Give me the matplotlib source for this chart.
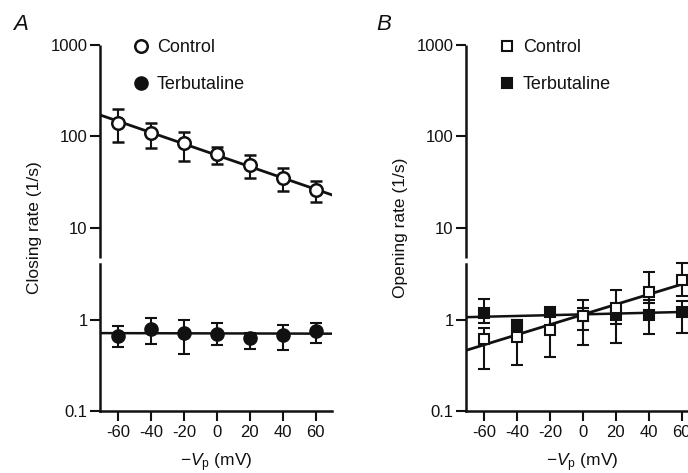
import matplotlib
matplotlib.use("Agg")
import matplotlib.pyplot as plt
from matplotlib.ticker import FixedLocator, FixedFormatter, NullLocator
import numpy as np

plt.rcParams["font.family"] = ["Liberation Sans", "DejaVu Sans"]
plt.rcParams["mathtext.fontset"] = "custom"
plt.rcParams["mathtext.rm"] = "Liberation Sans"
plt.rcParams["mathtext.it"] = "Liberation Sans:italic"

# membrane potential (-Vp, mV)
voltage = [-60, -40, -20, 0, 20, 40, 60]

# A: closing rate (1/s)
close_ctrl = [141, 108, 84, 64, 49, 35, 26]
close_ctrl_lo = [86, 74, 54, 50, 35, 25.6, 19.4]
close_ctrl_hi = [198, 139, 113, 76, 62, 45, 33]
close_terb = [0.66, 0.79, 0.71, 0.70, 0.62, 0.68, 0.75]
close_terb_lo = [0.50, 0.54, 0.42, 0.52, 0.48, 0.47, 0.56]
close_terb_hi = [0.85, 1.03, 1.0, 0.91, 0.71, 0.88, 0.91]

# B: opening rate (1/s)
open_ctrl = [0.61, 0.65, 0.77, 1.10, 1.32, 2.0, 2.72]
open_ctrl_lo = [0.29, 0.32, 0.39, 0.53, 0.56, 1.5, 1.8]
open_ctrl_hi = [0.80, 0.85, 1.1, 1.62, 2.1, 3.3, 4.1]
open_terb = [1.19, 0.87, 1.21, 1.10, 1.11, 1.11, 1.21]
open_terb_lo = [0.91, 0.78, 1.10, 0.77, 0.90, 0.69, 0.72]
open_terb_hi = [1.66, 0.98, 1.32, 1.32, 1.4, 1.62, 1.6]

# fitted lines (end points)
fit_x = [-71, 70]
fit_close_ctrl = [172, 23]
fit_close_terb = [0.71, 0.70]
fit_open_ctrl = [0.46, 2.75]
fit_open_terb = [1.06, 1.22]

yticks = [0.1, 1, 10, 100, 1000]
ytick_labels = ["0.1", "1", "10", "100", "1000"]
xtick_labels = ["-60", "-40", "-20", "0", "20", "40", "60"]

INK = "#111111"
W, H = 688, 473


def err(y, lo, hi):
    y = np.asarray(y)
    return [y - np.asarray(lo), np.asarray(hi) - y]


def style_axes(ax, ylabel):
    ax.set_yscale("log")
    ax.set_xlim(-71, 70)
    ax.set_ylim(0.1, 1000)
    for s in ["top", "right"]:
        ax.spines[s].set_visible(False)
    for s in ["left", "bottom"]:
        ax.spines[s].set_linewidth(1.8)
        ax.spines[s].set_color(INK)
    # broken y axis between 1 and 10
    ax.spines["left"].set_bounds(0.1, 4.0)
    ax.plot([0, 0], [4.7, 1000], transform=ax.get_yaxis_transform(),
            color=INK, lw=1.8, clip_on=False, solid_capstyle="butt", zorder=1)
    ax.yaxis.set_major_locator(FixedLocator(yticks))
    ax.yaxis.set_major_formatter(FixedFormatter(ytick_labels))
    ax.yaxis.set_minor_locator(NullLocator())
    ax.set_xticks(voltage)
    ax.set_xticklabels(xtick_labels)
    ax.tick_params(axis="both", length=7, width=1.5, color=INK,
                   labelsize=12, labelcolor=INK, pad=3)
    ax.tick_params(axis="y", pad=2)
    ax.set_ylabel(ylabel, fontsize=12.5, color=INK, labelpad=6)
    ax.set_xlabel(r"$-V_{\rm p}$ (mV)", fontsize=12.5, color=INK, labelpad=8)


fig = plt.figure(figsize=(W / 100, H / 100), dpi=100)
axA = fig.add_axes([100 / W, 62 / H, 232 / W, 366 / H])
axB = fig.add_axes([466 / W, 62 / H, 232 / W, 366 / H])

style_axes(axA, "Closing rate (1/s)")
style_axes(axB, "Opening rate (1/s)")

bar_kw = dict(ecolor=INK, elinewidth=1.5, capsize=4.5, capthick=1.5,
              linestyle="none", zorder=3)

axA.plot(fit_x, fit_close_ctrl, color=INK, lw=2, zorder=2)
axA.plot(fit_x, fit_close_terb, color=INK, lw=1.8, zorder=2)
axA.errorbar(voltage, close_ctrl, yerr=err(close_ctrl, close_ctrl_lo, close_ctrl_hi),
             marker="o", ms=9, mfc="white", mec=INK, mew=1.8,
             label="Control", **bar_kw)
axA.errorbar(voltage, close_terb, yerr=err(close_terb, close_terb_lo, close_terb_hi),
             marker="o", ms=9, mfc=INK, mec=INK, mew=1.5,
             label="Terbutaline", **bar_kw)

axB.plot(fit_x, fit_open_ctrl, color=INK, lw=2, zorder=2)
axB.plot(fit_x, fit_open_terb, color=INK, lw=1.8, zorder=2)
axB.errorbar(voltage, open_terb, yerr=err(open_terb, open_terb_lo, open_terb_hi),
             marker="s", ms=7.5, mfc=INK, mec=INK, mew=1.5,
             label="Terbutaline", **bar_kw)
axB.errorbar(voltage, open_ctrl, yerr=err(open_ctrl, open_ctrl_lo, open_ctrl_hi),
             marker="s", ms=7.5, mfc="white", mec=INK, mew=1.5,
             label="Control", **bar_kw)

for ax, order in [(axA, [0, 1]), (axB, [1, 0])]:
    h, l = ax.get_legend_handles_labels()
    h = [h[i][0] for i in order]
    l = [l[i] for i in order]
    leg = ax.legend(h, l, loc="upper left", bbox_to_anchor=(0.108, 1.035),
                    frameon=False, fontsize=13, handlelength=1.0,
                    handletextpad=0.35, labelspacing=1.1, borderaxespad=0)
    for t in leg.get_texts():
        t.set_color(INK)

fig.text(21 / W, 1 - 25 / H, "A", fontsize=16, style="italic", color=INK,
         ha="center", va="center")
fig.text(384 / W, 1 - 25 / H, "B", fontsize=16, style="italic", color=INK,
         ha="center", va="center")

fig.savefig("out.png", dpi=100)
